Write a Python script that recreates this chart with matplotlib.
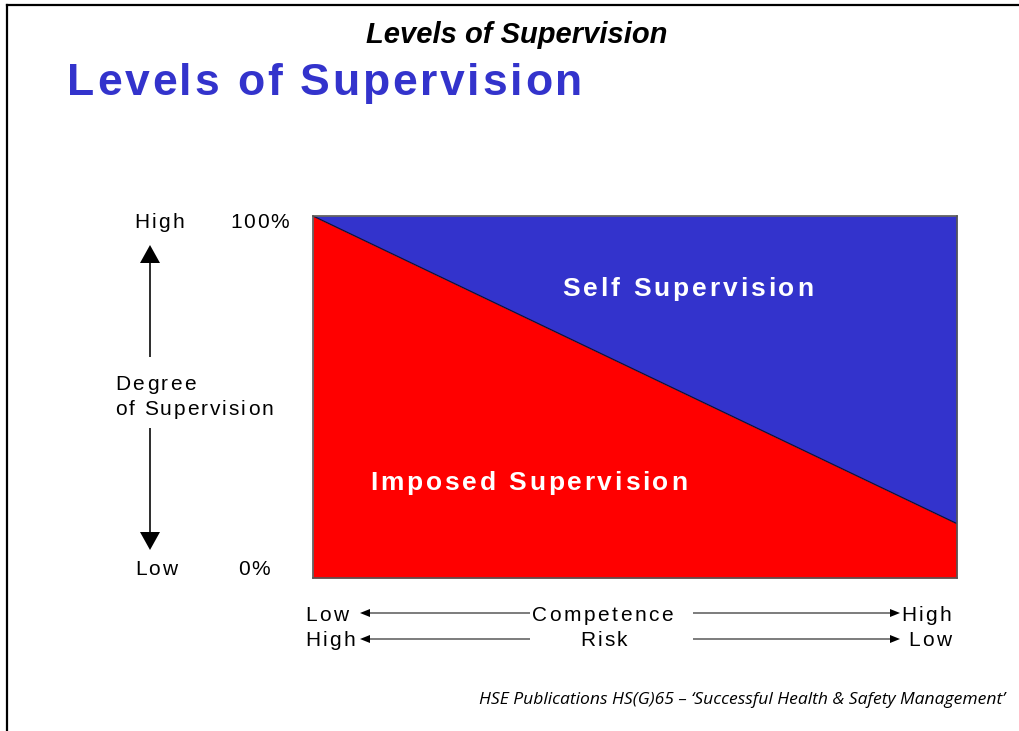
import matplotlib
matplotlib.use("Agg")
import matplotlib.pyplot as plt
from matplotlib.patches import FancyArrow

W, H = 1019, 731

# data: share of supervision that is imposed, from low to high competence
competence = [0.0, 1.0]
imposed_pct = [100.0, 15.0]
y_ticks = ["0%", "100%"]
y_levels = ["Low", "High"]
area_labels = ["Imposed Supervision", "Self Supervision"]

RED = "#FF0000"
BLUE = "#3333CC"
FONT = "Liberation Sans"

fig = plt.figure(figsize=(W / 100, H / 100), dpi=100)

# chart area (pixel box 313..957 x 216..578)
ax = fig.add_axes([313 / W, 1 - 578 / H, (957 - 313) / W, (578 - 216) / H])
ax.fill_between(competence, 0, imposed_pct, color=RED, lw=0)
ax.fill_between(competence, imposed_pct, 100, color=BLUE, lw=0)
ax.plot(competence, imposed_pct, color="#111133", lw=0.9)
ax.set_xlim(0, 1)
ax.set_ylim(0, 100)
ax.set_xticks([])
ax.set_yticks([])
for sp in ax.spines.values():
    sp.set_color("#555555")
    sp.set_linewidth(1.2)

# overlay in pixel coordinates for labels / arrows
ov = fig.add_axes([0, 0, 1, 1])
ov.set_xlim(0, W)
ov.set_ylim(H, 0)
ov.axis("off")

renderer = fig.canvas.get_renderer()


def char_w(ch, **kw):
    a = ov.text(0, 0, "|" + ch + "|", **kw)
    b = ov.text(0, 0, "||", **kw)
    w = a.get_window_extent(renderer).width - b.get_window_extent(renderer).width
    a.remove()
    b.remove()
    return w


def tracked(x, y, s, width, ha="center", **kw):
    # draw s letter by letter so that it spans `width` pixels
    ws = [char_w(ch, **kw) for ch in s]
    gap = (width - sum(ws)) / (len(s) - 1)
    if ha == "center":
        x0 = x - width / 2
    elif ha == "right":
        x0 = x - width
    else:
        x0 = x
    for ch, w in zip(s, ws):
        ov.text(x0, y, ch, ha="left", va="baseline", **kw)
        x0 += w + gap


# frame
ov.plot([7, 7], [H, 5], color="black", lw=1.6, solid_capstyle="projecting")
ov.plot([7, W], [5, 5], color="black", lw=1.6, solid_capstyle="projecting")

# titles
ov.text(517, 43, "Levels of Supervision", ha="center", va="baseline",
        fontsize=21, fontweight="bold", fontstyle="italic", family=FONT)
tracked(67, 95, "Levels of Supervision", 515, ha="left",
        fontsize=32, fontweight="bold", color=BLUE, family=FONT)

# labels inside the chart
tracked(688, 296, area_labels[1], 251, fontsize=19, fontweight="bold",
        color="white", family=FONT)
tracked(529, 490, area_labels[0], 317, fontsize=19, fontweight="bold",
        color="white", family=FONT)

lab = dict(fontsize=15, family=FONT, color="black")
# y axis labels
tracked(159, 228, y_levels[1], 50, **lab)
tracked(259.5, 228, y_ticks[1], 59, **lab)
tracked(156, 575, y_levels[0], 42, **lab)
tracked(254, 575, y_ticks[0], 32, **lab)
tracked(115, 390, "Degree", 81, ha="left", **lab)
tracked(115, 415, "of Supervision", 158, ha="left", **lab)

# vertical arrows
ov.add_patch(FancyArrow(150, 357, 0, -112, width=1.6, head_width=20,
                        head_length=18, length_includes_head=True,
                        color="black", lw=0))
ov.add_patch(FancyArrow(150, 428, 0, 122, width=1.6, head_width=20,
                        head_length=18, length_includes_head=True,
                        color="black", lw=0))

# x axis labels
tracked(305, 621, "Low", 43, ha="left", **lab)
tracked(602.5, 621, "Competence", 141, **lab)
tracked(951, 621, "High", 50, ha="right", **lab)
tracked(305, 646, "High", 50, ha="left", **lab)
tracked(603.5, 646, "Risk", 47, **lab)
tracked(951, 646, "Low", 43, ha="right", **lab)

for yy in (613, 639):
    ov.add_patch(FancyArrow(530, yy, 360 - 530, 0, width=1.0, head_width=8,
                            head_length=10, length_includes_head=True,
                            color="black", lw=0))
    ov.add_patch(FancyArrow(693, yy, 900 - 693, 0, width=1.0, head_width=8,
                            head_length=10, length_includes_head=True,
                            color="black", lw=0))

# source
ov.text(1005, 704, "HSE Publications HS(G)65 \u2013 \u2018Successful Health & Safety Management\u2019",
        ha="right", va="baseline", fontsize=12.6, fontstyle="italic", family="Open Sans")

fig.savefig("out.png", dpi=100)
